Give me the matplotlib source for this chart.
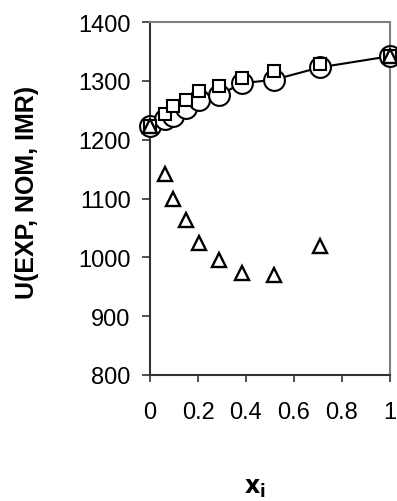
import matplotlib.pyplot as plt

plt.rcParams['font.family'] = ['Liberation Sans', 'DejaVu Sans']

# mole fraction and the three U estimates
x_i = [0.0, 0.0625, 0.097, 0.15, 0.205, 0.289, 0.382, 0.517, 0.708, 1.0]
u_exp = [1224, 1236, 1241, 1254, 1268, 1276, 1296, 1302, 1323, 1342]
u_nom = [1224, 1244, 1258, 1268, 1282, 1292, 1305, 1316, 1329, 1343]
u_imr = [1224, 1141, 1100, 1063, 1025, 995, 974, 970, 1019, 1342]

x_ticks = [0, 0.2, 0.4, 0.6, 0.8, 1]
x_tick_labels = ['0', '0.2', '0.4', '0.6', '0.8', '1']
y_ticks = [800, 900, 1000, 1100, 1200, 1300, 1400]

fig = plt.figure(figsize=(3.97, 5.02), dpi=100)
ax = fig.add_axes([0.378, 0.251, 0.604, 0.703])

ax.plot(x_i, u_exp, color='black', linewidth=1.5, marker='o', markersize=15,
        markerfacecolor='white', markeredgecolor='black', markeredgewidth=1.5,
        clip_on=False, zorder=3)
ax.plot(x_i, u_nom, linestyle='none', marker='s', markersize=9,
        markerfacecolor='white', markeredgecolor='black', markeredgewidth=1.5,
        clip_on=False, zorder=4)
ax.plot(x_i, u_imr, linestyle='none', marker='^', markersize=9.5,
        markerfacecolor='white', markeredgecolor='black', markeredgewidth=1.7,
        clip_on=False, zorder=5)

ax.set_xlim(0, 1)
ax.set_ylim(800, 1400)
ax.set_xticks(x_ticks)
ax.set_xticklabels(x_tick_labels)
ax.set_yticks(y_ticks)
ax.tick_params(axis='both', direction='out', labelsize=17, width=1.2, color='#333333')
ax.tick_params(axis='x', length=5, pad=14)
ax.tick_params(axis='y', length=6, pad=8)

for side in ['left', 'bottom']:
    ax.spines[side].set_color('#333333')
    ax.spines[side].set_linewidth(1.5)
for side in ['top', 'right']:
    ax.spines[side].set_color('#808080')
    ax.spines[side].set_linewidth(1.5)

fig.text(0.068, 0.617, 'U(EXP, NOM, IMR)', rotation=90, fontsize=18,
         fontweight='bold', ha='center', va='center')
fig.text(0.641, 0.004, r'$\mathbf{x_i}$', fontsize=17, ha='center', va='bottom')

fig.savefig('out.png', dpi=100)
